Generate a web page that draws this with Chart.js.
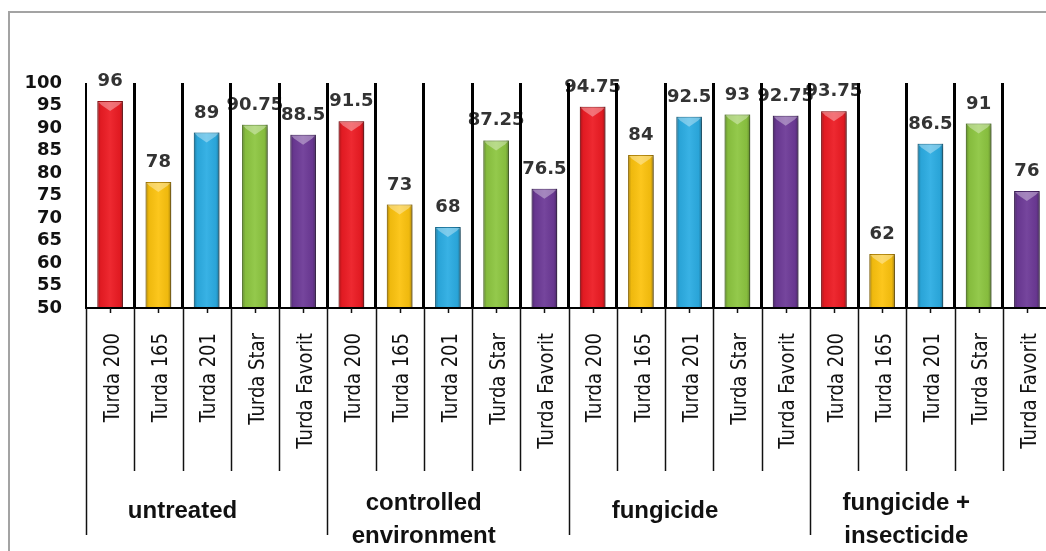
<!DOCTYPE html>
<html>
<head>
<meta charset="utf-8">
<script src="https://cdn.jsdelivr.net/npm/chart.js@4.4.1/dist/chart.umd.min.js"></script>
<style>
  html, body { margin: 0; padding: 0; background: #fff; overflow: hidden; }
  #wrap { position: absolute; left: 0; top: 0; width: 1070px; height: 560px; }
</style>
</head>
<body>
<div id="wrap"><canvas id="c" width="1070" height="560"></canvas></div>
<script>
// Wheat varieties and treatments
const varieties = ['Turda 200', 'Turda 165', 'Turda 201', 'Turda Star', 'Turda Favorit'];
const treatments = [['untreated'], ['controlled', 'environment'], ['fungicide'], ['fungicide +', 'insecticide']];

// Values per treatment, in variety order
const untreated     = [96, 78, 89, 90.75, 88.5];
const controlledEnv = [91.5, 73, 68, 87.25, 76.5];
const fungicide     = [94.75, 84, 92.5, 93, 92.75];
const fungInsect    = [93.75, 62, 86.5, 91, 76];

// Value axis
const yMin = 50, yMax = 100, yStep = 5;

// One colour per variety
const varietyColors = ['#ED1C24', '#FCC30F', '#2CADE3', '#8DC641', '#6D3A97'];
const varietyEdges  = ['#B3151B', '#C9960A', '#1E86B3', '#679A2C', '#4E2870'];

const groups = [untreated, controlledEnv, fungicide, fungInsect];
const labels = [];
const values = [];
const fills = [];
const edges = [];
groups.forEach(g => g.forEach((v, i) => {
  labels.push(varieties[i]);
  values.push(v);
  fills.push(varietyColors[i]);
  edges.push(varietyEdges[i]);
}));

const fmt = v => String(v);

// Frame round the whole figure
const framePlugin = {
  id: 'frame',
  beforeDraw(chart) {
    const ctx = chart.ctx;
    ctx.save();
    ctx.fillStyle = '#fff';
    ctx.fillRect(0, 0, chart.width, chart.height);
    ctx.strokeStyle = '#a3a3a3';
    ctx.lineWidth = 2;
    ctx.strokeRect(9, 12, chart.width + 40, chart.height + 40);
    ctx.restore();
  }
};

// Soft drop shadow, bevelled bar shading and value labels
const barStyle = {
  id: 'barStyle',
  beforeDatasetsDraw(chart) {
    const ctx = chart.ctx;
    ctx.save();
    ctx.shadowColor = 'rgba(0,0,0,0.35)';
    ctx.shadowBlur = 5;
    ctx.shadowOffsetX = 3;
    ctx.shadowOffsetY = 1;
  },
  afterDatasetsDraw(chart) {
    const ctx = chart.ctx;
    ctx.restore();
    const area = chart.chartArea;
    const meta = chart.getDatasetMeta(0);
    ctx.save();
    meta.data.forEach((el, i) => {
      const { x, y, base, width } = el.getProps(['x', 'y', 'base', 'width'], true);
      const bottom = Math.min(base, area.bottom);
      const l = x - width / 2, r = x + width / 2;
      const g = ctx.createLinearGradient(l, 0, r, 0);
      g.addColorStop(0, 'rgba(0,0,0,0.30)');
      g.addColorStop(0.13, 'rgba(0,0,0,0.05)');
      g.addColorStop(0.5, 'rgba(255,255,255,0.06)');
      g.addColorStop(0.87, 'rgba(0,0,0,0.05)');
      g.addColorStop(1, 'rgba(0,0,0,0.32)');
      ctx.fillStyle = g;
      ctx.fillRect(l, y, width, bottom - y);
      // top bevel
      ctx.beginPath();
      ctx.moveTo(l + 1, y + 1);
      ctx.lineTo(r - 1, y + 1);
      ctx.lineTo(r - 4, y + 4);
      ctx.lineTo(x, y + 10);
      ctx.lineTo(l + 4, y + 4);
      ctx.closePath();
      ctx.fillStyle = 'rgba(255,255,255,0.35)';
      ctx.fill();
    });
    // value labels
    ctx.fillStyle = '#333';
    ctx.font = 'bold 18px "DejaVu Sans"';
    ctx.textAlign = 'center';
    ctx.textBaseline = 'alphabetic';
    meta.data.forEach((el, i) => {
      const { x, y } = el.getProps(['x', 'y'], true);
      ctx.fillText(fmt(values[i]), x, y - 15);
    });
    ctx.restore();
  }
};

// Category labels, separators and treatment groups under the axis
const groupAxis = {
  id: 'groupAxis',
  afterDraw(chart) {
    const ctx = chart.ctx;
    const xs = chart.scales.x;
    const axisY = chart.chartArea.bottom;
    const n = labels.length;
    const step = xs.getPixelForValue(1) - xs.getPixelForValue(0);
    const first = xs.getPixelForValue(0) - step / 2;
    ctx.save();
    ctx.strokeStyle = '#111';
    ctx.lineWidth = 1.5;
    for (let i = 0; i <= n; i++) {
      const bx = Math.round(first + i * step) + 0.5;
      const isGroup = i % varieties.length === 0;
      ctx.beginPath();
      ctx.moveTo(bx, axisY);
      ctx.lineTo(bx, axisY + (isGroup ? 227 : 163));
      ctx.stroke();
    }
    for (let i = 0; i < n; i++) {
      const cx = Math.round(xs.getPixelForValue(i)) + 0.5;
      ctx.beginPath();
      ctx.moveTo(cx, axisY);
      ctx.lineTo(cx, axisY + 5);
      ctx.stroke();
    }
    // rotated variety names (slightly tall glyphs)
    ctx.fillStyle = '#111';
    ctx.font = '18px "DejaVu Sans"';
    ctx.textAlign = 'right';
    ctx.textBaseline = 'middle';
    for (let i = 0; i < n; i++) {
      ctx.save();
      ctx.translate(xs.getPixelForValue(i) + 3, axisY + 25);
      ctx.rotate(-Math.PI / 2);
      ctx.scale(1, 1.22);
      ctx.fillText(labels[i], 0, 0);
      ctx.restore();
    }
    // treatment names
    ctx.font = 'bold 24px "Liberation Sans"';
    ctx.textAlign = 'center';
    ctx.textBaseline = 'alphabetic';
    treatments.forEach((lines, gi) => {
      const cx = xs.getPixelForValue(gi * varieties.length + 1) + step / 2;
      if (lines.length === 1) {
        ctx.fillText(lines[0], cx, axisY + 210);
      } else {
        ctx.fillText(lines[0], cx, axisY + 202);
        ctx.fillText(lines[1], cx, axisY + 235);
      }
    });
    ctx.restore();
  }
};

new Chart(document.getElementById('c'), {
  type: 'bar',
  data: {
    labels: labels,
    datasets: [{
      data: values,
      backgroundColor: fills,
      borderColor: edges,
      borderWidth: 1,
      barPercentage: 0.53,
      categoryPercentage: 1.0
    }]
  },
  options: {
    responsive: false,
    animation: false,
    devicePixelRatio: 1,
    layout: { padding: { top: 83, right: 19, left: 0, bottom: 0 } },
    plugins: { legend: { display: false }, tooltip: { enabled: false } },
    scales: {
      x: {
        offset: true,
        afterFit: s => { s.height = 560 - 308; },
        ticks: { display: false, autoSkip: false },
        grid: {
          display: true,
          offset: true,
          z: 1,
          drawTicks: false,
          color: '#000',
          lineWidth: c => (c.index === 0 ? 2 : 3)
        },
        border: { display: true, color: '#000', width: 2, z: 1 }
      },
      y: {
        min: yMin,
        max: yMax,
        afterFit: s => { s.width = 86; },
        ticks: {
          stepSize: yStep,
          autoSkip: false,
          padding: 24,
          color: '#111',
          font: { family: 'DejaVu Sans', size: 18, weight: 'bold' }
        },
        grid: { display: false, drawTicks: false },
        border: { display: false }
      }
    }
  },
  plugins: [framePlugin, barStyle, groupAxis]
});
</script>
</body>
</html>
